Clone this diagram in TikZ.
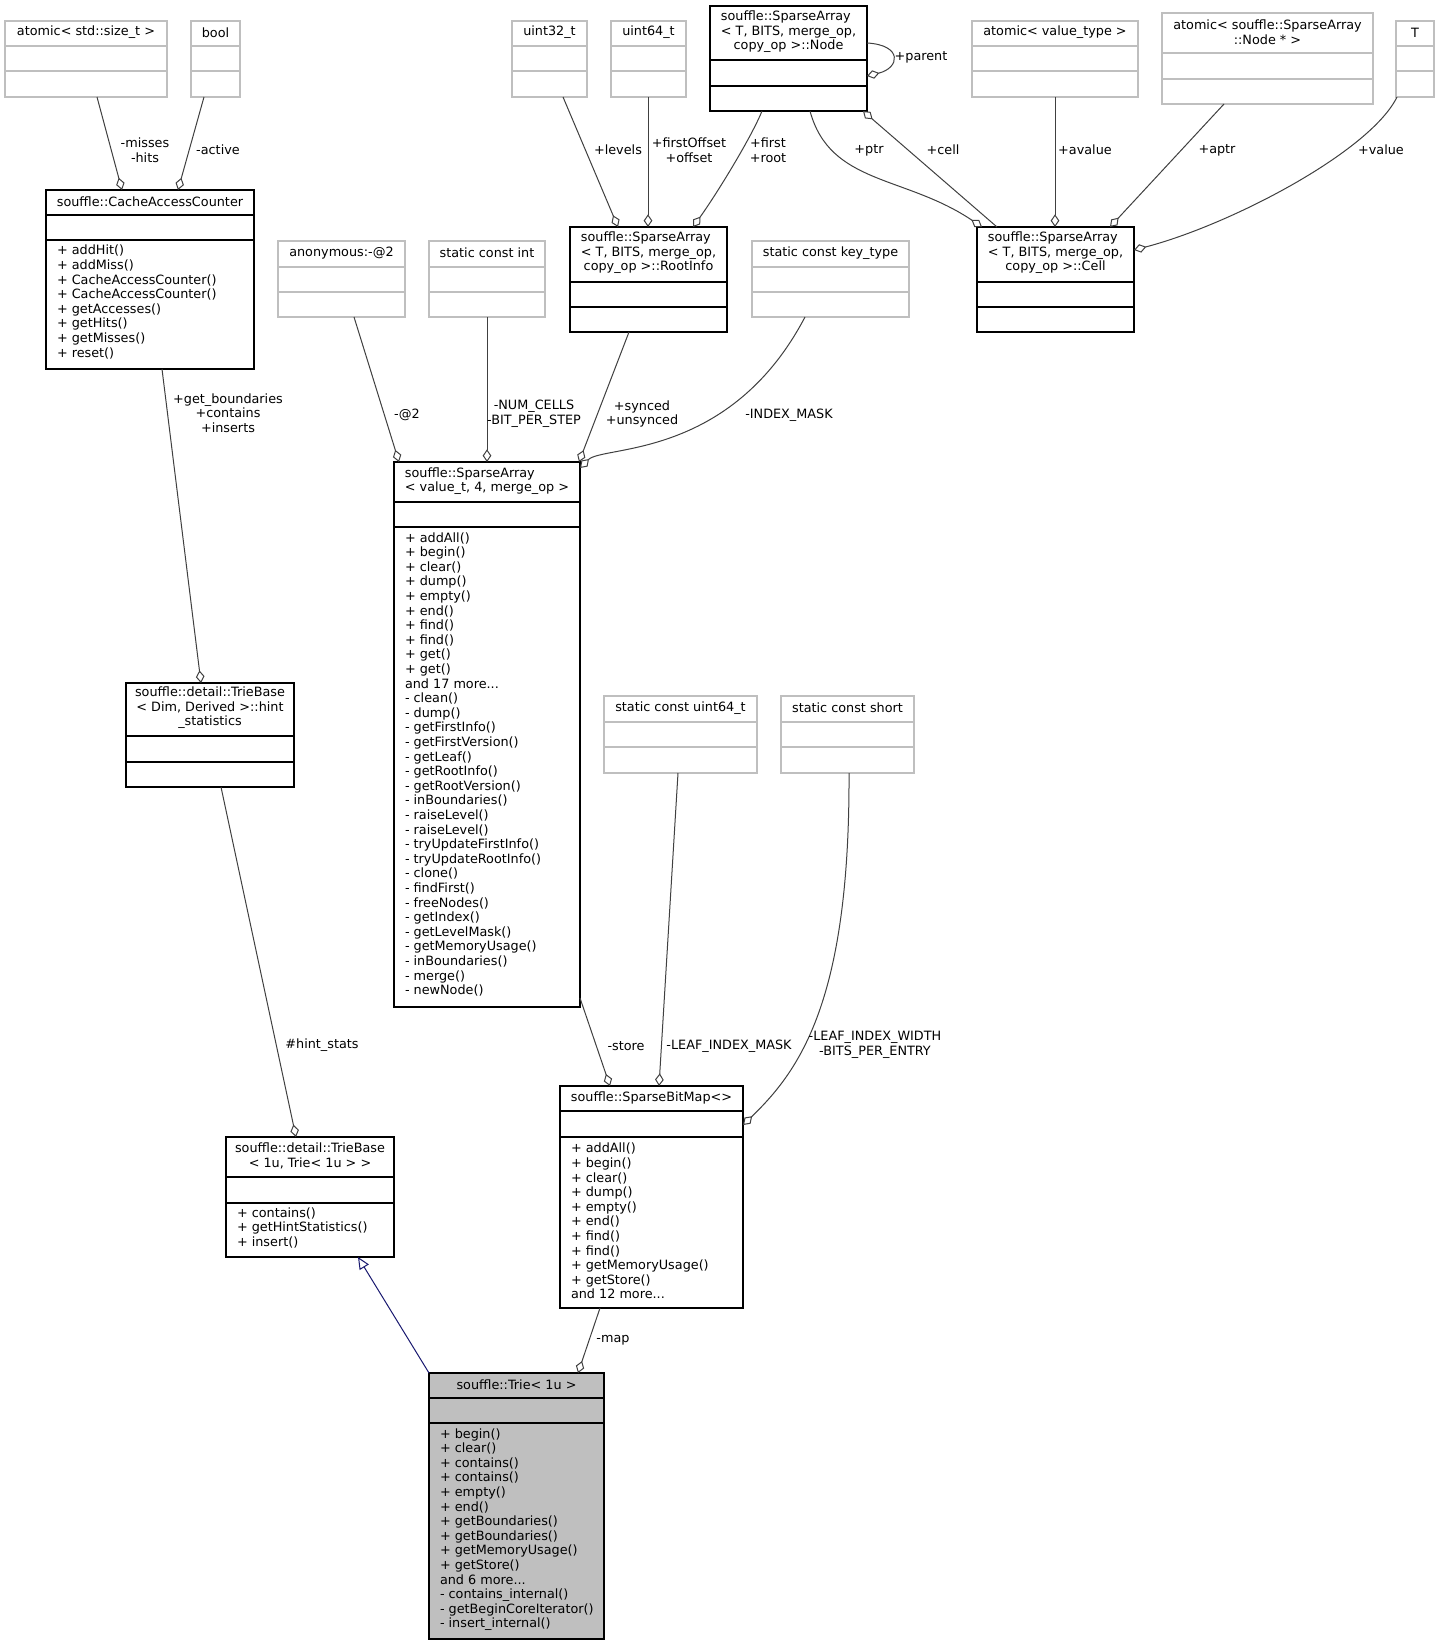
\documentclass[tikz,border=0pt]{standalone}
\usepackage{fontspec}
\setmainfont{DejaVu Sans}
\usetikzlibrary{arrows.meta,calc}
\definecolor{edgec}{HTML}{404040}
\definecolor{greyb}{HTML}{BFBFBF}
\definecolor{inhc}{HTML}{191970}
\tikzset{
  every node/.style={font=\fontsize{9.6}{10.95}\selectfont, inner sep=0pt, outer sep=0pt},
  cls/.style={draw=black, line width=1pt},
  ext/.style={draw=greyb, line width=1pt},
  cur/.style={draw=black, fill=greyb, line width=1pt},
  agg/.style={draw=edgec, line width=0.75pt, -{Diamond[open,length=9.5pt,width=6.5pt]}},
  inhe/.style={draw=inhc, line width=0.75pt, -{Triangle[open,length=9pt,width=8pt]}},
  lbl/.style={align=center},
  mth/.style={align=left, anchor=west},
  hdr/.style={align=center}
}
\newcommand\umlbox[8]{%
  \node[#8, anchor=north west, minimum width={(#4-#2)*0.75pt}, minimum height={(#5-#3)*0.75pt}] (#1) at (#2,#3) {};
  \draw[#8, fill=none] (#2,#6) -- (#4,#6) (#2,#7) -- (#4,#7);}
\begin{document}
\begin{tikzpicture}[x=0.75pt,y=-0.75pt]
\fill[white] (0,0) rectangle (1440,1645);
\useasboundingbox (0,0) rectangle (1440,1645);

% ---- boxes ----
\umlbox{atsz}{5}{21}{167}{97}{46}{71}{ext}
\node[hdr] (atszh) at (86,32.5) {atomic< std::size\_t >};
\umlbox{bool}{191}{21}{240}{97}{46}{71}{ext}
\node[hdr] (boolh) at (215.5,32.5) {bool};
\umlbox{cac}{46}{190}{254}{369}{215}{240}{cls}
\node[hdr] (cach) at (150,201.5) {souffle::CacheAccessCounter};
\node[mth] (cacm) at (57,303) {\strut + addHit()\\+ addMiss()\\+ CacheAccessCounter()\\+ CacheAccessCounter()\\+ getAccesses()\\+ getHits()\\+ getMisses()\\\strut + reset()};

\umlbox{u32}{512}{21}{587}{97}{46}{71}{ext}
\node[hdr] (u32h) at (549.5,32.5) {uint32\_t};
\umlbox{u64}{611}{21}{686}{97}{46}{71}{ext}
\node[hdr] (u64h) at (648.5,32.5) {uint64\_t};
\umlbox{nd}{710}{6}{867}{111}{60}{86}{cls}
\node[hdr] (ndh) at (788.5,32) {\rlap{souffle::SparseArray}\hphantom{< T, BITS, merge\_op,}\\< T, BITS, merge\_op,\\copy\_op >::Node};
\umlbox{avt}{972}{21}{1138}{97}{46}{71}{ext}
\node[hdr] (avth) at (1055,32.5) {atomic< value\_type >};
\umlbox{asn}{1162}{13}{1373}{104}{53}{79}{ext}
\node[hdr] (asnh) at (1267.5,32) {atomic< souffle::SparseArray\\::Node * >};
\umlbox{tt}{1396}{21}{1434}{97}{46}{71}{ext}
\node[hdr] (tth) at (1415,32.5) {T};

\umlbox{anon}{278}{241}{405}{317}{267}{292}{ext}
\node[hdr] (anonh) at (341.5,253) {anonymous:-@2};
\umlbox{sci}{429}{241}{545}{317}{267}{292}{ext}
\node[hdr] (scih) at (487,253) {static const int};
\umlbox{ri}{570}{227}{727}{332}{282}{307}{cls}
\node[hdr] (rih) at (648.5,253) {\rlap{souffle::SparseArray}\hphantom{< T, BITS, merge\_op,}\\< T, BITS, merge\_op,\\copy\_op >::RootInfo};
\umlbox{sckt}{752}{241}{909}{317}{267}{292}{ext}
\node[hdr] (sckth) at (830.5,253) {static const key\_type};
\umlbox{cell}{977}{227}{1134}{332}{282}{307}{cls}
\node[hdr] (cellh) at (1055.5,253) {\rlap{souffle::SparseArray}\hphantom{< T, BITS, merge\_op,}\\< T, BITS, merge\_op,\\copy\_op >::Cell};

\umlbox{sa}{394}{462}{580}{1007}{502}{527}{cls}
\node[hdr] (sah) at (487,481) {\rlap{souffle::SparseArray}\hphantom{< value\_t, 4, merge\_op >}\\< value\_t, 4, merge\_op >};
\node[mth] (sam) at (405,765.5) {\strut + addAll()\\+ begin()\\+ clear()\\+ dump()\\+ empty()\\+ end()\\+ find()\\+ find()\\+ get()\\+ get()\\and 17 more...\\- clean()\\- dump()\\- getFirstInfo()\\- getFirstVersion()\\- getLeaf()\\- getRootInfo()\\- getRootVersion()\\- inBoundaries()\\- raiseLevel()\\- raiseLevel()\\- tryUpdateFirstInfo()\\- tryUpdateRootInfo()\\- clone()\\- findFirst()\\- freeNodes()\\- getIndex()\\- getLevelMask()\\- getMemoryUsage()\\- inBoundaries()\\- merge()\\\strut - newNode()};

\umlbox{hint}{126}{683}{294}{787}{736}{762}{cls}
\node[hdr] (hinth) at (210,708) {souffle::detail::TrieBase\\< Dim, Derived >::hint\\\_statistics};
\umlbox{tb}{226}{1137}{394}{1257}{1177}{1203}{cls}
\node[hdr] (tbh) at (310,1156) {souffle::detail::TrieBase\\< 1u, Trie< 1u > >};
\node[mth] (tbm) at (237,1229) {\strut + contains()\\+ getHintStatistics()\\\strut + insert()};

\umlbox{scu}{604}{696}{757}{773}{722}{747}{ext}
\node[hdr] (scuh) at (680.5,708) {static const uint64\_t};
\umlbox{scs}{781}{696}{914}{773}{722}{747}{ext}
\node[hdr] (scsh) at (847.5,708) {static const short};

\umlbox{sbm}{560}{1086}{743}{1308}{1111}{1137}{cls}
\node[hdr] (sbmh) at (651.5,1098) {souffle::SparseBitMap<>};
\node[mth] (sbmm) at (571,1223) {\strut + addAll()\\+ begin()\\+ clear()\\+ dump()\\+ empty()\\+ end()\\+ find()\\+ find()\\+ getMemoryUsage()\\+ getStore()\\\strut and 12 more...};

\umlbox{trie}{429}{1373}{604}{1639}{1398}{1423}{cur}
\node[hdr] (trieh) at (516.5,1385) {souffle::Trie< 1u >};
\node[mth] (triem) at (440,1530) {\strut + begin()\\+ clear()\\+ contains()\\+ contains()\\+ empty()\\+ end()\\+ getBoundaries()\\+ getBoundaries()\\+ getMemoryUsage()\\+ getStore()\\and 6 more...\\- contains\_internal()\\- getBeginCoreIterator()\\\strut - insert\_internal()};

% ---- connectors ----
\draw[agg] ($(atsz.south west)+(92,0)$) -- ($(cac.north west)+(76,0)$);
\draw[agg] ($(bool.south west)+(13,0)$) -- ($(cac.north west)+(132,0)$);
\draw[agg] ($(u32.south west)+(51,0)$) -- ($(ri.north west)+(48,0)$);
\draw[agg] ($(u64.south west)+(37,0)$) -- ($(ri.north west)+(78,0)$);
\draw[agg] ($(nd.south west)+(52,0)$) .. controls +(-10,25) and +(25,-35) .. ($(ri.north west)+(123,0)$);
\draw[agg] ($(nd.south west)+(100,0)$) .. controls +(20,74) and +(-77,-52) .. ($(cell.north west)+(5,0)$);
\draw[agg] ($(cell.north west)+(20,0)$) -- ($(nd.south west)+(153,0)$);
\draw[agg] ($(nd.north west)+(157,37)$) .. controls +(36,2) and +(33,-8) .. ($(nd.north west)+(157,70)$);
\draw[agg] ($(avt.south west)+(83,0)$) -- ($(cell.north west)+(78,0)$);
\draw[agg] ($(asn.south west)+(62,0)$) -- ($(cell.north west)+(133,0)$);
\draw[agg] ($(tt.south west)+(1,0)$) .. controls +(-27,55) and +(96,-25) .. ($(cell.north east)+(0,23)$);
\draw[agg] ($(anon.south west)+(76,0)$) -- ($(sa.north west)+(5,0)$);
\draw[agg] ($(sci.south west)+(58,0)$) -- ($(sa.north west)+(93,0)$);
\draw[agg] ($(ri.south west)+(59,0)$) -- ($(sa.north east)+(-1,0)$);
\draw[agg] ($(sckt.south west)+(53,0)$) .. controls +(-75,143) and +(23,-23) .. ($(sa.north east)+(0,6)$);
\draw[agg] ($(cac.south west)+(116,0)$) -- ($(hint.north west)+(75,0)$);
\draw[agg] ($(hint.south west)+(95,0)$) -- ($(tb.north west)+(70,0)$);
\draw[agg] ($(sa.south east)+(0,-9)$) -- ($(sbm.north west)+(50,0)$);
\draw[agg] ($(scu.south west)+(74,0)$) -- ($(sbm.north west)+(99,0)$);
\draw[agg] ($(scs.south west)+(68,0)$) .. controls +(1,227) and +(57,-55) .. ($(sbm.north east)+(0,39)$);
\draw[agg] ($(sbm.south west)+(40,0)$) -- ($(trie.north west)+(149,0)$);
\draw[inhe] (trie.north west) -- ($(tb.south west)+(132,0)$);

% ---- connector labels ----
\node[lbl] (l1) at (145,150) {-misses\\-hits};
\node[lbl] (l2) at (218,150) {-active};
\node[lbl] (l3) at (618,150) {+levels};
\node[lbl] (l4) at (689,150) {+firstOffset\\+offset};
\node[lbl] (l5) at (768,150) {+first\\+root};
\node[lbl] (l6) at (869,150) {+ptr};
\node[lbl] (l7) at (943,150) {+cell};
\node[lbl] (l8) at (921,57.5) {+parent};
\node[lbl] (l9) at (1085,150) {+avalue};
\node[lbl] (l10) at (1217,150) {+aptr};
\node[lbl] (l11) at (1381,150) {+value};
\node[lbl] (l12) at (407,415) {-@2};
\node[lbl] (l13) at (534,414) {-NUM\_CELLS\\-BIT\_PER\_STEP};
\node[lbl] (l14) at (642,414) {+synced\\+unsynced};
\node[lbl] (l15) at (789,415) {-INDEX\_MASK};
\node[lbl] (l16) at (228,413) {+get\_boundaries\\+contains\\+inserts};
\node[lbl] (l17) at (322,1045) {\#hint\_stats};
\node[lbl] (l18) at (626,1046) {-store};
\node[lbl] (l19) at (729,1046) {-LEAF\_INDEX\_MASK};
\node[lbl] (l20) at (875,1045) {-LEAF\_INDEX\_WIDTH\\-BITS\_PER\_ENTRY};
\node[lbl] (l21) at (613,1340) {-map};
\end{tikzpicture}
\end{document}
